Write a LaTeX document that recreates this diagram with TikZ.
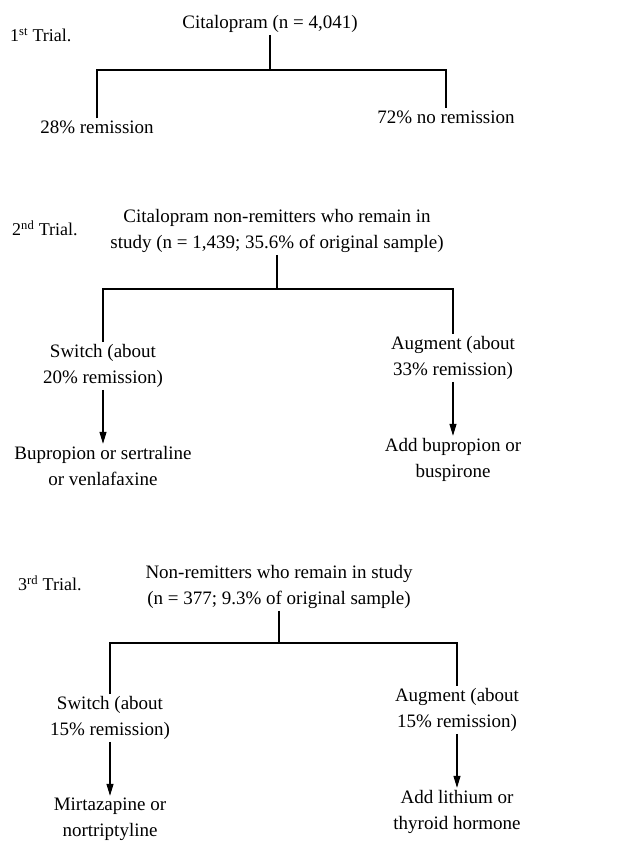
\documentclass[tikz,border=0pt]{standalone}
\usepackage{fontspec}
\setmainfont{Liberation Serif}
\usetikzlibrary{arrows.meta,positioning}
\tikzset{
 txt/.style={align=center,font=\fontsize{19}{26}\selectfont,inner sep=2pt},
 trialname/.style={anchor=west,font=\fontsize{18}{22}\selectfont,inner sep=0pt},
 branch/.style={line width=1.1pt},
 arrow/.style={-{Triangle[length=12pt,width=7pt]},line width=1.1pt}
}

\begin{document}
\begin{tikzpicture}[x=1pt,y=-1pt,node distance=54pt]
\useasboundingbox (0,0) rectangle (625,845);
% first trial
\node[trialname] (trialA) at (10,35) {1\textsuperscript{st} Trial.};
\node[txt] (cit) at (270,24) {Citalopram (n = 4,041)};
\node[txt] (rem) at (97,127) {28\% remission};
\node[txt] (norem) at (446,117) {72\% no remission};
\coordinate (jA) at (270,70);
\draw[branch] (cit) -- (jA);
\draw[branch] (rem) |- (jA) -| (norem);
% second trial
\node[trialname] (trialB) at (12,228) {2\textsuperscript{nd} Trial.};
\node[txt] (citnon) at (277,231) {Citalopram non-remitters who remain in\\study (n = 1,439; 35.6\% of original sample)};
\coordinate (jB) at (277,289);
\node[txt] (switchB) at (103,366) {Switch (about\\20\% remission)};
\node[txt] (augB) at (453,358) {Augment (about\\33\% remission)};
\node[txt,below=of switchB] (drugB) {Bupropion or sertraline\\or venlafaxine};
\node[txt,below=of augB] (addB) {Add bupropion or\\buspirone};
\draw[branch] (citnon) -- (jB);
\draw[branch] (switchB) |- (jB) -| (augB);
\draw[arrow] (switchB) -- (drugB);
\draw[arrow] (augB) -- (addB);
% third trial
\node[trialname] (trialC) at (18,583) {3\textsuperscript{rd} Trial.};
\node[txt] (nonrem) at (279,587) {Non-remitters who remain in study\\(n = 377; 9.3\% of original sample)};
\coordinate (jC) at (279,643);
\node[txt] (switchC) at (110,718) {Switch (about\\15\% remission)};
\node[txt] (augC) at (457,710) {Augment (about\\15\% remission)};
\node[txt,below=of switchC] (drugC) {Mirtazapine or\\nortriptyline};
\node[txt,below=of augC] (addC) {Add lithium or\\thyroid hormone};
\draw[branch] (nonrem) -- (jC);
\draw[branch] (switchC) |- (jC) -| (augC);
\draw[arrow] (switchC) -- (drugC);
\draw[arrow] (augC) -- (addC);
\end{tikzpicture}
\end{document}
